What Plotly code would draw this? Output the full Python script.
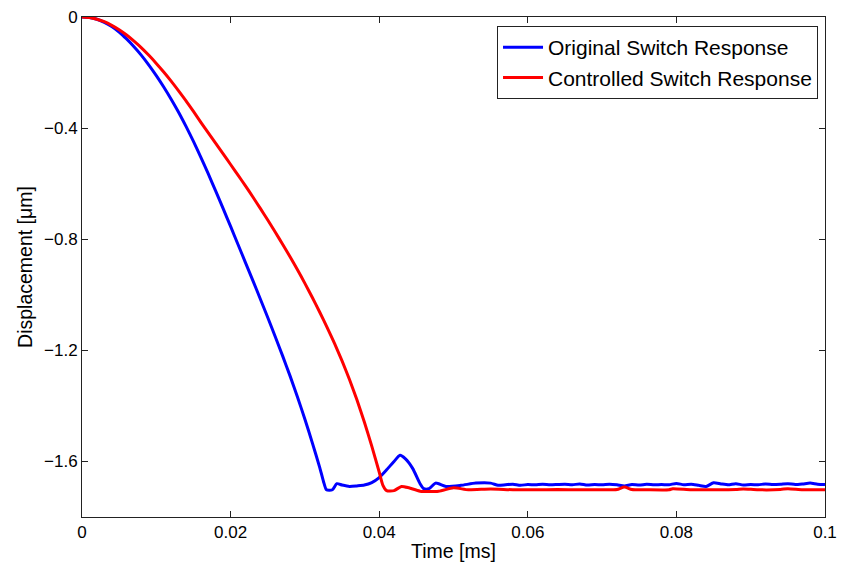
import plotly.graph_objects as go

# Original switch response (blue)
t_orig = [0, 0.001, 0.002, 0.003, 0.004, 0.005, 0.006, 0.007, 0.008, 0.009,
          0.010, 0.011, 0.012, 0.013, 0.014, 0.015, 0.016, 0.017, 0.018, 0.019,
          0.020, 0.021, 0.022, 0.023, 0.024, 0.025, 0.026, 0.027, 0.028, 0.029,
          0.030, 0.031, 0.032, 0.0325, 0.0329, 0.0337, 0.0343, 0.035, 0.036, 0.037,
          0.038, 0.039, 0.040, 0.041, 0.042, 0.0428, 0.0435, 0.0445, 0.0455, 0.046,
          0.0467, 0.0476, 0.049, 0.051, 0.053, 0.055, 0.056,
          0.057, 0.058, 0.059, 0.060, 0.061, 0.062, 0.063, 0.064, 0.065, 0.066,
          0.067, 0.068, 0.069, 0.070, 0.071, 0.072, 0.073, 0.074, 0.075, 0.076,
          0.077, 0.078, 0.079, 0.080, 0.081, 0.082, 0.083, 0.084, 0.085, 0.086,
          0.087, 0.088, 0.089, 0.090, 0.091, 0.092, 0.093, 0.094, 0.095, 0.096,
          0.097, 0.098, 0.099, 0.100]
d_orig = [0, -0.002, -0.008, -0.019, -0.034, -0.054, -0.079, -0.107, -0.138, -0.173,
          -0.211, -0.252, -0.296, -0.343, -0.394, -0.448, -0.505, -0.565, -0.627, -0.690,
          -0.754, -0.819, -0.884, -0.949, -1.015, -1.082, -1.150, -1.220, -1.292, -1.368,
          -1.448, -1.533, -1.622, -1.672, -1.702, -1.702, -1.680, -1.685, -1.690, -1.688,
          -1.685, -1.676, -1.658, -1.630, -1.600, -1.578, -1.590, -1.625, -1.680, -1.698,
          -1.698, -1.678, -1.690, -1.686, -1.678, -1.678, -1.686,
          -1.684, -1.682, -1.686, -1.683, -1.684, -1.682, -1.684, -1.683, -1.682, -1.684,
          -1.681, -1.685, -1.683, -1.684, -1.682, -1.684, -1.688, -1.683, -1.685, -1.682,
          -1.684, -1.683, -1.684, -1.679, -1.684, -1.682, -1.686, -1.690, -1.677, -1.681,
          -1.684, -1.680, -1.685, -1.683, -1.684, -1.681, -1.683, -1.682, -1.680, -1.683,
          -1.681, -1.678, -1.682, -1.683]

# Controlled switch response (red)
t_ctrl = [0, 0.001, 0.002, 0.003, 0.004, 0.005, 0.006, 0.007, 0.008, 0.009,
          0.010, 0.011, 0.012, 0.013, 0.014, 0.015, 0.016, 0.017, 0.018, 0.019,
          0.020, 0.021, 0.022, 0.023, 0.024, 0.025, 0.026, 0.027, 0.028, 0.029,
          0.030, 0.031, 0.032, 0.033, 0.034, 0.035, 0.036, 0.037, 0.038, 0.039,
          0.040, 0.0405, 0.041, 0.042, 0.043, 0.044, 0.0455, 0.048, 0.050, 0.052,
          0.055, 0.058, 0.061, 0.064, 0.067, 0.070, 0.072, 0.073, 0.074, 0.076,
          0.079, 0.0795, 0.082, 0.085, 0.088, 0.089, 0.091, 0.094, 0.095, 0.097, 0.100]
d_ctrl = [0, -0.002, -0.008, -0.017, -0.030, -0.046, -0.065, -0.087, -0.111, -0.138,
          -0.167, -0.198, -0.231, -0.266, -0.302, -0.340, -0.379, -0.417, -0.455, -0.493,
          -0.531, -0.569, -0.608, -0.648, -0.689, -0.731, -0.774, -0.818, -0.863, -0.910,
          -0.959, -1.010, -1.063, -1.118, -1.176, -1.238, -1.305, -1.378, -1.458, -1.545,
          -1.638, -1.686, -1.705, -1.705, -1.690, -1.695, -1.707, -1.707, -1.695, -1.702,
          -1.699, -1.702, -1.702, -1.701, -1.702, -1.702, -1.701, -1.692, -1.701, -1.702,
          -1.702, -1.698, -1.702, -1.702, -1.701, -1.699, -1.702, -1.701, -1.698, -1.702, -1.702]

x_ticks = [0, 0.02, 0.04, 0.06, 0.08, 0.1]
x_labels = ["0", "0.02", "0.04", "0.06", "0.08", "0.1"]
y_ticks = [0, -0.4, -0.8, -1.2, -1.6]
y_labels = ["0", "\u22120.4", "\u22120.8", "\u22121.2", "\u22121.6"]

font_family = "Liberation Sans, Arial, sans-serif"

fig = go.Figure()
fig.add_trace(go.Scatter(x=t_orig, y=d_orig, mode="lines", name="Original Switch Response",
                         line=dict(color="#0000ff", width=3, shape="spline", smoothing=0.6)))
fig.add_trace(go.Scatter(x=t_ctrl, y=d_ctrl, mode="lines", name="Controlled Switch Response",
                         line=dict(color="#ff0000", width=3, shape="spline", smoothing=0.6)))

axis_common = dict(showline=True, linecolor="#222222", linewidth=1, mirror="ticks",
                   ticks="inside", ticklen=6, tickcolor="#222222", showgrid=False,
                   zeroline=False, automargin=False,
                   tickfont=dict(size=17, color="#000000", family=font_family))

fig.update_xaxes(range=[0, 0.1], tickvals=x_ticks, ticktext=x_labels,
                 title=dict(text="Time [ms]", font=dict(size=19.5, color="#000000", family=font_family),
                            standoff=2),
                 **axis_common)
fig.update_yaxes(range=[-1.8, 0], tickvals=y_ticks, ticktext=y_labels,
                 title=dict(text="Displacement [\u03bcm]", font=dict(size=19.5, color="#000000", family=font_family),
                            standoff=6),
                 **axis_common)

fig.update_layout(
    width=843, height=571,
    margin=dict(l=82, r=18, t=17, b=54),
    paper_bgcolor="white", plot_bgcolor="white",
    font=dict(family=font_family, color="#000000"),
    legend=dict(x=0.9906, y=0.982, xanchor="right", yanchor="top",
                bgcolor="white", bordercolor="#222222", borderwidth=1,
                font=dict(size=21, color="#000000", family=font_family),
                tracegroupgap=0, itemwidth=40),
    showlegend=True,
)

fig.write_html("out.html")
